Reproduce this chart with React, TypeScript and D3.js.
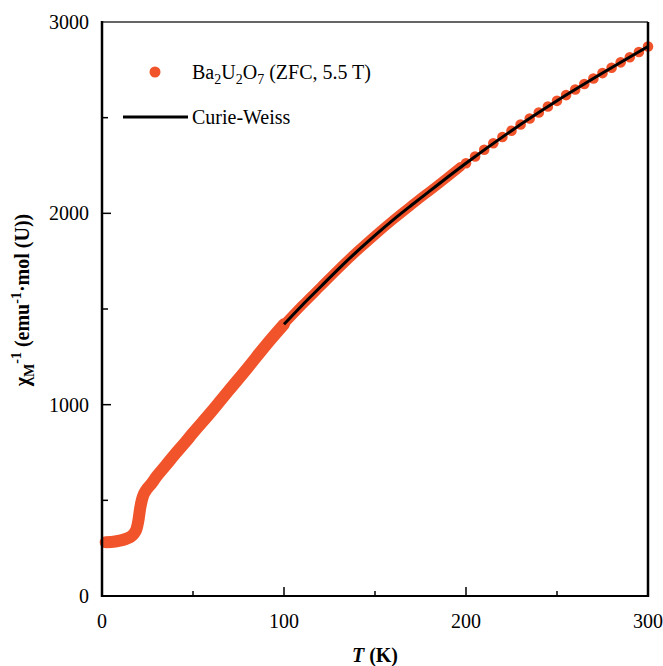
import React from 'react';
import * as d3 from 'd3';

const W = 663;
const H = 666;

// dense measurement region, drawn as a continuous band
const denseT = [2, 5, 8, 11, 14, 16, 17, 18, 19, 20, 21, 22, 23, 24, 25, 27, 30, 35, 40, 45, 50, 60, 70, 80, 90, 100, 110, 120, 130, 140, 150, 160, 170, 180, 190, 197];
const denseChi = [281, 282, 286, 292, 302, 312, 320, 332, 352, 395, 460, 505, 533, 550, 563, 585, 625, 682, 740, 795, 852, 962, 1078, 1192, 1310, 1420, 1520, 1615, 1710, 1800, 1885, 1966, 2042, 2116, 2190, 2243];

// sparse points above 200 K
const sparseT = [200, 205, 210, 215, 220, 225, 230, 235, 240, 245, 250, 255, 260, 265, 270, 275, 280, 285, 290, 295, 300];
const sparseChi = [2262, 2297, 2332, 2366, 2399, 2432, 2464, 2496, 2527, 2558, 2588, 2618, 2647, 2676, 2705, 2733, 2761, 2789, 2816, 2843, 2872];

// Curie-Weiss fit
const fitT = [100, 110, 120, 130, 140, 150, 160, 170, 180, 190, 200, 225, 250, 275, 300];
const fitChi = [1420, 1520, 1615, 1710, 1800, 1885, 1966, 2042, 2116, 2190, 2262, 2432, 2588, 2733, 2872];

const xTicks = [0, 100, 200, 300];
const xMinor = [50, 150, 250];
const yTicks = [0, 1000, 2000, 3000];
const yMinor = [500, 1500, 2500];

const ORANGE = '#f1532a';
const serif = { fontFamily: 'Liberation Serif, Times New Roman, Times, serif' };

export default function App() {
  const left = 102, right = 648, top = 22, bottom = 596;
  const x = d3.scaleLinear().domain([0, 300]).range([left, right]);
  const y = d3.scaleLinear().domain([0, 3000]).range([bottom, top]);

  const pts = denseT.map((t, i) => [t, denseChi[i]] as [number, number]);
  const bandGen = d3.line<[number, number]>()
    .x(d => x(d[0]))
    .y(d => y(d[1]))
    .curve(d3.curveMonotoneX);
  const bandLow = bandGen(pts.filter(d => d[0] <= 100)) || '';
  const bandHigh = bandGen(pts.filter(d => d[0] >= 100)) || '';

  const fit = d3.line<number>()
    .x((_, i) => x(fitT[i]))
    .y(d => y(d))
    .curve(d3.curveMonotoneX)(fitChi) || '';

  return (
    <svg width={W} height={H} style={{ position: 'absolute', left: 0, top: 0, background: '#fff' }}>
      {/* data */}
      <path d={bandLow} fill="none" stroke={ORANGE} strokeWidth={12} strokeLinecap="round" strokeLinejoin="round" />
      <path d={bandHigh} fill="none" stroke={ORANGE} strokeWidth={9.5} strokeLinecap="round" strokeLinejoin="round" />
      {sparseT.map((t, i) => (
        <circle key={t} cx={x(t)} cy={y(sparseChi[i])} r={5.3} fill={ORANGE} />
      ))}
      <path d={fit} fill="none" stroke="#000" strokeWidth={3} />

      {/* frame */}
      <line x1={left} x2={right} y1={top} y2={top} stroke="#333" strokeWidth={1.5} />
      <line x1={right} x2={right} y1={top} y2={bottom + 1} stroke="#000" strokeWidth={2.5} />
      <line x1={left} x2={left} y1={top - 1} y2={bottom + 1} stroke="#000" strokeWidth={2.5} />
      <line x1={left} x2={right} y1={bottom} y2={bottom} stroke="#000" strokeWidth={2} />

      {/* ticks */}
      {xTicks.slice(1, -1).map(t => (
        <line key={'xt' + t} x1={x(t)} x2={x(t)} y1={bottom} y2={bottom - 9} stroke="#000" strokeWidth={1.5} />
      ))}
      {xMinor.map(t => (
        <line key={'xm' + t} x1={x(t)} x2={x(t)} y1={bottom} y2={bottom - 5} stroke="#000" strokeWidth={1.5} />
      ))}
      {yTicks.slice(1, -1).map(t => (
        <line key={'yt' + t} x1={left} x2={left + 9} y1={y(t)} y2={y(t)} stroke="#000" strokeWidth={1.5} />
      ))}
      {yMinor.map(t => (
        <line key={'ym' + t} x1={left} x2={left + 6} y1={y(t)} y2={y(t)} stroke="#000" strokeWidth={1.5} />
      ))}

      {/* tick labels */}
      {xTicks.map(t => (
        <text key={'xl' + t} style={serif} x={x(t)} y={628} textAnchor="middle" fontSize={20} fill="#000">{t}</text>
      ))}
      {yTicks.map(t => (
        <text key={'yl' + t} style={serif} x={89} y={y(t) + 7} textAnchor="end" fontSize={20} fill="#000">{t}</text>
      ))}

      {/* axis titles */}
      <text style={serif} x={375} y={662} textAnchor="middle" fontSize={20} fontWeight="bold" fill="#000">
        <tspan fontStyle="italic">T</tspan> (K)
      </text>
      <text style={serif} transform="translate(29,300) rotate(-90)" textAnchor="middle" fontSize={20} fontWeight="bold" fill="#000">
        χ<tspan fontSize={14} dy={5}>M</tspan><tspan fontSize={14} dy={-13}>-1</tspan><tspan dy={8}> (emu</tspan><tspan fontSize={14} dy={-8}>-1</tspan><tspan dy={8}>·mol (U))</tspan>
      </text>

      {/* legend */}
      <circle cx={155} cy={72} r={5.5} fill={ORANGE} />
      <text style={serif} x={192} y={79} fontSize={20} fill="#000">
        Ba<tspan fontSize={14} dy={5}>2</tspan><tspan dy={-5}>U</tspan><tspan fontSize={14} dy={5}>2</tspan><tspan dy={-5}>O</tspan><tspan fontSize={14} dy={5}>7</tspan><tspan dy={-5}> (ZFC, 5.5 T)</tspan>
      </text>
      <line x1={123} x2={188} y1={117} y2={117} stroke="#000" strokeWidth={3} />
      <text style={serif} x={192} y={124} fontSize={20} fill="#000">Curie-Weiss</text>
    </svg>
  );
}
